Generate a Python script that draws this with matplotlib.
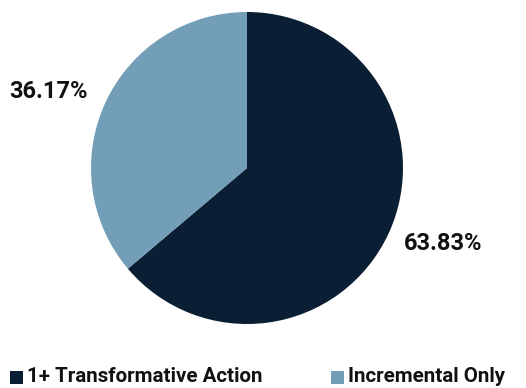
import numpy as np
import matplotlib.pyplot as plt
from matplotlib.patches import Rectangle

categories = ["1+ Transformative Action", "Incremental Only"]
shares = [63.83, 36.17]
colors = ["#0A1F34", "#729FB7"]

plt.rcParams["font.family"] = ["Roboto", "DejaVu Sans"]

fig = plt.figure(figsize=(5.26, 3.88), dpi=100)

# pie axes: center (247, 168) px, radius ~156 px
r_px = 156
cx, cy = 247, 388 - 168
ax = fig.add_axes([(cx - r_px) / 526, (cy - r_px) / 388, 2 * r_px / 526, 2 * r_px / 388])
wedges, _, autotexts = ax.pie(
    shares, colors=colors, startangle=90, counterclock=False,
    autopct="%.2f%%", pctdistance=1.36, radius=1,
    wedgeprops=dict(linewidth=0),
    textprops=dict(fontsize=17, fontweight="bold", color="#111111"),
)
# nudge labels a little off the slice midlines
label_angles = [-21, 159]
label_r = [1.35, 1.36]
for t, a, r in zip(autotexts, label_angles, label_r):
    t.set_position((r * np.cos(np.radians(a)), r * np.sin(np.radians(a))))
ax.set_xlim(-1, 1)
ax.set_ylim(-1, 1)
ax.set_aspect("equal")
ax.axis("off")

# legend row along the bottom
legend_x = [10, 331]
legend_y = 388 - 377
for x, label, c in zip(legend_x, categories, colors):
    fig.patches.append(Rectangle((x / 526, (legend_y - 6.5) / 388), 13 / 526, 13 / 388,
                                 transform=fig.transFigure, facecolor=c, edgecolor="none"))
    fig.text((x + 17) / 526, legend_y / 388, label, fontsize=14.8, fontweight="bold",
             va="center", ha="left", color="#111111")

fig.savefig("out.png", dpi=100)
